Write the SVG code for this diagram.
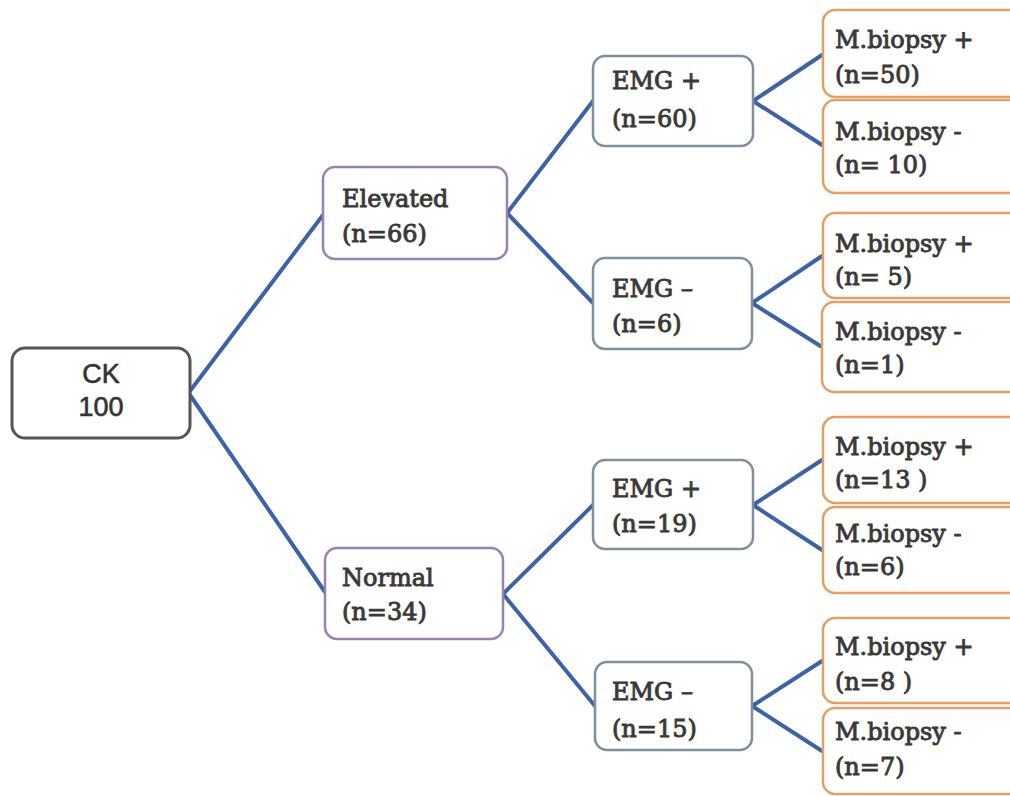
<svg xmlns="http://www.w3.org/2000/svg" width="1010" height="796" viewBox="0 0 1010 796">
<style>
.bg{fill:#ffffff}
.box{fill:#ffffff;stroke-width:2.5}
.ck{stroke:#585454;stroke-width:3}
.lvl1{stroke:#9b80b2}
.lvl2{stroke:#7e8f9e}
.leaf{stroke:#e3a064}
.conn line{stroke:#3d62a6;stroke-width:4;stroke-linecap:round}
.t{font-family:"DejaVu Serif","Liberation Serif",serif;font-size:24px;fill:#3b3838;stroke:#3b3838;stroke-width:0.9}
.s{font-family:"Liberation Sans",Arial,sans-serif;font-size:27px;fill:#333333;stroke:#333333;stroke-width:0.6;text-anchor:middle}
</style>
<rect class="bg" x="0" y="0" width="1010" height="796"/>
<g id="connectors" class="conn">
<line x1="190" y1="391" x2="323" y2="215"/>
<line x1="190" y1="395" x2="325" y2="592"/>
<line x1="507" y1="213" x2="593" y2="101"/>
<line x1="507" y1="213" x2="593" y2="303"/>
<line x1="503" y1="594" x2="593" y2="505"/>
<line x1="503" y1="594" x2="595" y2="706"/>
<line x1="753" y1="101" x2="822" y2="55"/>
<line x1="753" y1="101" x2="822" y2="145"/>
<line x1="752" y1="303" x2="822" y2="256"/>
<line x1="752" y1="303" x2="822" y2="347"/>
<line x1="753" y1="505" x2="822" y2="460"/>
<line x1="753" y1="505" x2="822" y2="550"/>
<line x1="752" y1="706" x2="822" y2="661"/>
<line x1="752" y1="706" x2="822" y2="751"/>
</g>
<g id="ck">
<rect class="box ck" x="12" y="348" width="178" height="90" rx="13"/>
<text class="s" x="101" y="383">CK</text>
<text class="s" x="101" y="416">100</text>
</g>
<g id="elevated">
<rect class="box lvl1" x="323" y="167" width="184" height="92" rx="12"/>
<text class="t" x="342" y="207">Elevated</text>
<text class="t" x="342" y="242">(n=66)</text>
</g>
<g id="normal">
<rect class="box lvl1" x="325" y="548" width="178" height="91" rx="12"/>
<text class="t" x="342" y="586">Normal</text>
<text class="t" x="342" y="620">(n=34)</text>
</g>
<g id="emg-pos-1">
<rect class="box lvl2" x="593" y="56" width="160" height="90" rx="12"/>
<text class="t" x="612" y="89">EMG +</text>
<text class="t" x="612" y="127">(n=60)</text>
</g>
<g id="emg-neg-1">
<rect class="box lvl2" x="593" y="258" width="159" height="91" rx="12"/>
<text class="t" x="612" y="297">EMG –</text>
<text class="t" x="612" y="332">(n=6)</text>
</g>
<g id="emg-pos-2">
<rect class="box lvl2" x="593" y="460" width="160" height="89" rx="12"/>
<text class="t" x="612" y="497">EMG +</text>
<text class="t" x="612" y="532">(n=19)</text>
</g>
<g id="emg-neg-2">
<rect class="box lvl2" x="595" y="662" width="157" height="88" rx="12"/>
<text class="t" x="612" y="700">EMG –</text>
<text class="t" x="612" y="737">(n=15)</text>
</g>
<g id="leaf-1">
<rect class="box leaf" x="823" y="10" width="210" height="87" rx="12"/>
<text class="t" x="835" y="48">M.biopsy +</text>
<text class="t" x="835" y="83">(n=50)</text>
</g>
<g id="leaf-2">
<rect class="box leaf" x="823" y="100" width="210" height="93" rx="12"/>
<text class="t" x="835" y="140">M.biopsy -</text>
<text class="t" x="835" y="173">(n= 10)</text>
</g>
<g id="leaf-3">
<rect class="box leaf" x="823" y="213" width="210" height="85" rx="12"/>
<text class="t" x="835" y="252">M.biopsy +</text>
<text class="t" x="835" y="285">(n= 5)</text>
</g>
<g id="leaf-4">
<rect class="box leaf" x="822" y="302" width="210" height="90" rx="12"/>
<text class="t" x="835" y="340">M.biopsy -</text>
<text class="t" x="835" y="373">(n=1)</text>
</g>
<g id="leaf-5">
<rect class="box leaf" x="823" y="417" width="210" height="86" rx="12"/>
<text class="t" x="835" y="455">M.biopsy +</text>
<text class="t" x="835" y="488">(n=13 )</text>
</g>
<g id="leaf-6">
<rect class="box leaf" x="823" y="507" width="210" height="86" rx="12"/>
<text class="t" x="835" y="542">M.biopsy -</text>
<text class="t" x="835" y="575">(n=6)</text>
</g>
<g id="leaf-7">
<rect class="box leaf" x="823" y="618" width="210" height="85" rx="12"/>
<text class="t" x="835" y="655">M.biopsy +</text>
<text class="t" x="835" y="690">(n=8 )</text>
</g>
<g id="leaf-8">
<rect class="box leaf" x="823" y="708" width="210" height="86" rx="12"/>
<text class="t" x="835" y="740">M.biopsy -</text>
<text class="t" x="835" y="775">(n=7)</text>
</g>
</svg>
